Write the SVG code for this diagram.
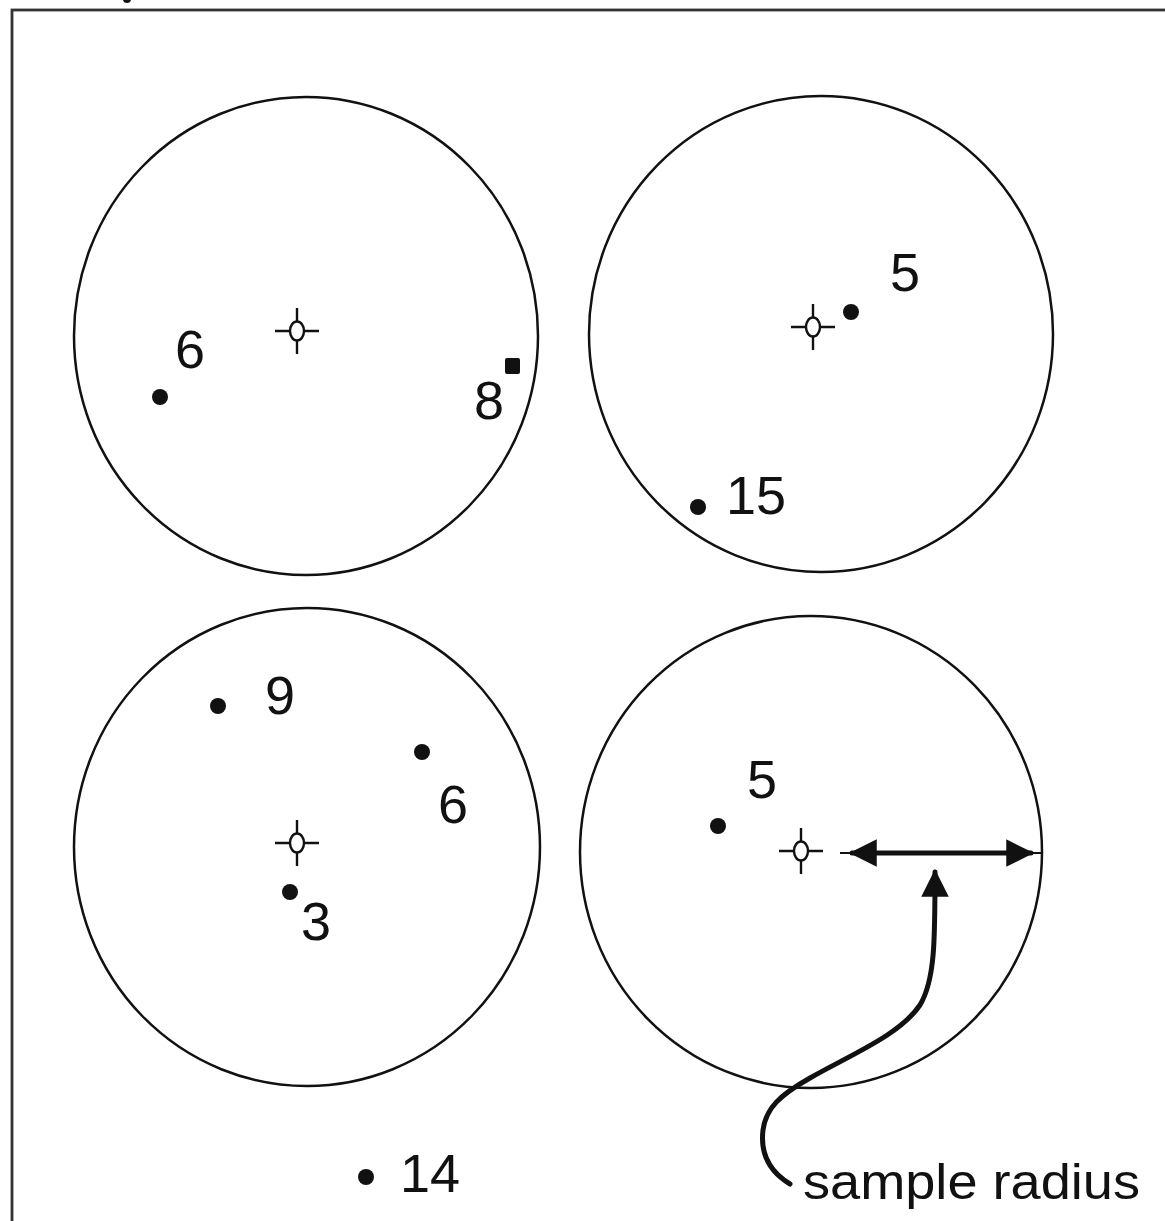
<svg xmlns="http://www.w3.org/2000/svg" width="1165" height="1221" viewBox="0 0 1165 1221">
<style>
.ring{fill:none;stroke:#111;stroke-width:2.5}
.pt{fill:#111}
.lbl{font-family:"Liberation Sans",Arial,sans-serif;font-size:54px;fill:#111}
.conn{fill:none;stroke:#111;stroke-width:5;stroke-linecap:round}
</style>
<defs>
<g id="cm" stroke="#111" stroke-width="2.4">
<line x1="-22" y1="0" x2="22" y2="0"/>
<line x1="0" y1="-23" x2="0" y2="23"/>
<ellipse cx="0" cy="0" rx="7" ry="9.5" fill="#fff"/>
</g>
<marker id="ah" viewBox="0 0 10 10" refX="9" refY="5" markerWidth="5.5" markerHeight="5.5" markerUnits="strokeWidth" orient="auto-start-reverse">
<path d="M0,0 L10,5 L0,10 z" fill="#111"/>
</marker>
</defs>
<rect x="0" y="0" width="1165" height="1221" fill="#fff"/>
<rect x="12" y="10" width="1170" height="1230" fill="none" stroke="#333" stroke-width="2.8"/>
<ellipse cx="127" cy="-1" rx="4" ry="4" fill="#111"/>

<g id="sample1">
<ellipse class="ring" cx="306" cy="336" rx="232" ry="239"/>
<use href="#cm" x="297" y="331"/>
<circle class="pt" cx="160" cy="397" r="8"/>
<text class="lbl" x="190" y="368" text-anchor="middle">6</text>
<rect class="pt" x="505" y="358" width="15" height="16" rx="2"/>
<text class="lbl" x="489" y="419" text-anchor="middle">8</text>
</g>

<g id="sample2">
<ellipse class="ring" cx="821" cy="334" rx="232" ry="238"/>
<use href="#cm" x="813" y="327"/>
<circle class="pt" cx="851" cy="312" r="8"/>
<text class="lbl" x="905" y="291" text-anchor="middle">5</text>
<circle class="pt" cx="698" cy="507" r="8"/>
<text class="lbl" x="756" y="514" text-anchor="middle">15</text>
</g>

<g id="sample3">
<ellipse class="ring" cx="307" cy="847" rx="233" ry="239"/>
<use href="#cm" x="297" y="843"/>
<circle class="pt" cx="218" cy="706" r="8"/>
<text class="lbl" x="280" y="714" text-anchor="middle">9</text>
<circle class="pt" cx="422" cy="752" r="8"/>
<text class="lbl" x="453" y="823" text-anchor="middle">6</text>
<circle class="pt" cx="290" cy="892" r="8"/>
<text class="lbl" x="316" y="940" text-anchor="middle">3</text>
</g>

<g id="sample4">
<ellipse class="ring" cx="811" cy="852" rx="231" ry="236"/>
<use href="#cm" x="801" y="851"/>
<circle class="pt" cx="718" cy="826" r="8"/>
<text class="lbl" x="762" y="798" text-anchor="middle">5</text>
</g>

<g id="outlier">
<circle class="pt" cx="366" cy="1177" r="8"/>
<text class="lbl" x="430" y="1192" text-anchor="middle">14</text>
</g>

<g id="connectors">
<line class="conn" x1="852" y1="853" x2="1031" y2="853" marker-start="url(#ah)" marker-end="url(#ah)"/>
<line x1="840" y1="853" x2="852" y2="853" stroke="#111" stroke-width="2"/>
<line x1="1031" y1="853" x2="1042" y2="853" stroke="#111" stroke-width="2"/>
<path class="conn" d="M790,1184 C770,1172 760,1155 763,1130 C766,1108 780,1095 810,1078 C850,1055 900,1035 920,1005 C935,980 935,940 935,872" marker-end="url(#ah)"/>
</g>

<g id="label">
<text class="lbl" x="803" y="1199" textLength="337" lengthAdjust="spacingAndGlyphs" style="font-size:50px">sample radius</text>
</g>
</svg>
